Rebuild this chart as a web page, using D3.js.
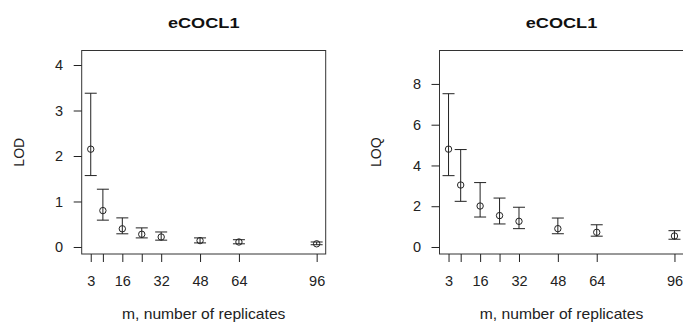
<!DOCTYPE html>
<html>
<head>
<meta charset="utf-8">
<script src="https://cdn.jsdelivr.net/npm/d3@7"></script>
<style>
  body { margin: 0; background: #fff; }
  svg { display: block; font-family: "Liberation Sans", Arial, sans-serif; }
</style>
</head>
<body>
<script>
// number of replicates
var reps = [3, 8, 16, 24, 32, 48, 64, 96];
var xLabelTicks = [3, 16, 32, 48, 64, 96];

// LOD estimates and intervals
var lodMean  = [2.15, 0.80, 0.40, 0.28, 0.22, 0.14, 0.11, 0.07];
var lodLower = [1.57, 0.59, 0.29, 0.20, 0.15, 0.09, 0.07, 0.05];
var lodUpper = [3.38, 1.27, 0.64, 0.42, 0.33, 0.20, 0.16, 0.11];
var lodTicks = [0, 1, 2, 3, 4];

// LOQ estimates and intervals
var loqMean  = [4.80, 3.04, 2.01, 1.54, 1.26, 0.90, 0.72, 0.54];
var loqLower = [3.50, 2.24, 1.47, 1.13, 0.90, 0.65, 0.53, 0.38];
var loqUpper = [7.52, 4.78, 3.16, 2.40, 1.95, 1.42, 1.09, 0.80];
var loqTicks = [0, 2, 4, 6, 8];

var w = 683, h = 329;

var svg = d3.select("body")
    .append("svg")
    .attr("width", w)
    .attr("height", h);

function panel(left, yLabel, ymin, ymax, yTicks, mean, lower, upper) {
    var plotW = 244, top = 50.5, bottom = 254;

    var x = d3.scaleLinear()
        .domain([-0.72, 99.72])
        .range([left, left + plotW]);

    var y = d3.scaleLinear()
        .domain([ymin, ymax])
        .range([bottom, top]);

    var g = svg.append("g");

    // box around plot region
    g.append("rect")
        .attr("x", left)
        .attr("y", top)
        .attr("width", plotW)
        .attr("height", bottom - top)
        .attr("fill", "none")
        .attr("stroke", "#333")
        .attr("stroke-width", 1);

    // x axis, ticks at every m but labels only where R had room
    var xa = g.append("g")
        .attr("transform", "translate(0," + bottom + ")")
        .call(d3.axisBottom(x)
            .tickValues(reps)
            .tickSize(8)
            .tickFormat(function(d) { return xLabelTicks.indexOf(d) >= 0 ? d : ""; }));
    xa.select(".domain").remove();
    xa.selectAll("line").attr("stroke", "#222");
    xa.selectAll("text")
        .attr("y", 22)
        .attr("fill", "#222")
        .style("font-size", "14.5px")
        .style("font-family", "Liberation Sans, Arial, sans-serif");

    // y axis
    var ya = g.append("g")
        .attr("transform", "translate(" + left + ",0)")
        .call(d3.axisLeft(y)
            .tickValues(yTicks)
            .tickSize(8)
            .tickFormat(d3.format("d")));
    ya.select(".domain").remove();
    ya.selectAll("line").attr("stroke", "#222");
    ya.selectAll("text")
        .attr("x", -18.5)
        .attr("fill", "#222")
        .style("font-size", "14.5px")
        .style("font-family", "Liberation Sans, Arial, sans-serif");

    // error bars
    var bars = g.selectAll(".bar")
        .data(reps)
        .enter()
        .append("g")
        .attr("class", "bar")
        .attr("stroke", "#222")
        .attr("stroke-width", 1);

    bars.append("line")
        .attr("x1", function(d) { return x(d); })
        .attr("x2", function(d) { return x(d); })
        .attr("y1", function(d, i) { return y(lower[i]); })
        .attr("y2", function(d, i) { return y(upper[i]); });

    bars.append("line")
        .attr("x1", function(d) { return x(d) - 6; })
        .attr("x2", function(d) { return x(d) + 6; })
        .attr("y1", function(d, i) { return y(upper[i]); })
        .attr("y2", function(d, i) { return y(upper[i]); });

    bars.append("line")
        .attr("x1", function(d) { return x(d) - 6; })
        .attr("x2", function(d) { return x(d) + 6; })
        .attr("y1", function(d, i) { return y(lower[i]); })
        .attr("y2", function(d, i) { return y(lower[i]); });

    // open circles for the estimates
    g.selectAll(".pt")
        .data(reps)
        .enter()
        .append("circle")
        .attr("class", "pt")
        .attr("cx", function(d) { return x(d); })
        .attr("cy", function(d, i) { return y(mean[i]); })
        .attr("r", 3.2)
        .attr("fill", "none")
        .attr("stroke", "#222")
        .attr("stroke-width", 1);

    var cx = left + plotW / 2;

    // title
    g.append("text")
        .attr("transform", "translate(" + cx + ",27.5) scale(1.17,1)")
        .attr("text-anchor", "middle")
        .attr("font-weight", "bold")
        .attr("font-size", "15.5px")
        .attr("fill", "#111")
        .text("eCOCL1");

    // x axis title
    g.append("text")
        .attr("transform", "translate(" + cx + ",319) scale(1.08,1)")
        .attr("text-anchor", "middle")
        .attr("font-size", "14.5px")
        .attr("fill", "#222")
        .text("m, number of replicates");

    // y axis title
    g.append("text")
        .attr("transform", "translate(" + (left - 58.2) + "," + ((top + bottom) / 2) + ") rotate(-90)")
        .attr("text-anchor", "middle")
        .attr("font-size", "14px")
        .attr("fill", "#222")
        .text(yLabel);
}

panel(81.7, "LOD", -0.154, 4.319, lodTicks, lodMean, lodLower, lodUpper);
panel(439.5, "LOQ", -0.344, 9.64, loqTicks, loqMean, loqLower, loqUpper);
</script>
</body>
</html>
